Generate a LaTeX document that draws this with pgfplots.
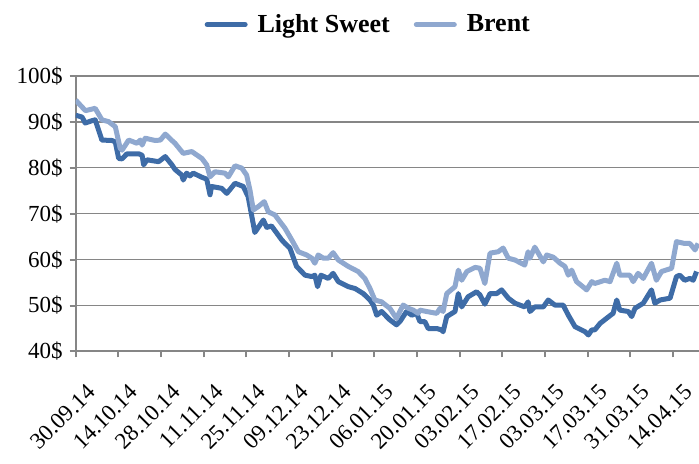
\documentclass[border=0pt]{standalone}
\usepackage{fontspec}
\setmainfont{Liberation Serif}
\usepackage{pgfplots}
\pgfplotsset{compat=1.18}
\usetikzlibrary{calc}
\definecolor{lsblue}{RGB}{62,108,167}
\definecolor{brblue}{RGB}{143,168,207}
\definecolor{gridgray}{RGB}{134,134,134}

\begin{document}
\begin{tikzpicture}
\begin{axis}[
    scale only axis,
    width=311.65pt,
    height=137.9pt,
    xmin=0, xmax=204.6,
    ymin=40, ymax=100,
    axis lines=left,
    axis line style={-, draw=gridgray, line width=1pt},
    ytick={40,50,...,100},
    yticklabels={40\$,50\$,60\$,70\$,80\$,90\$,100\$},
    xtick={0,14,...,196},
    xticklabels={30.09.14,14.10.14,28.10.14,11.11.14,25.11.14,09.12.14,23.12.14,06.01.15,20.01.15,03.02.15,17.02.15,03.03.15,17.03.15,31.03.15,14.04.15},
    tick align=outside,
    major tick length=3pt,
    tick style={draw=gridgray, line width=1pt},
    ymajorgrids,
    major grid style={draw=gridgray, line width=0.85pt},
    tick label style={font=\fontsize{11.5}{13}\selectfont},
    x tick label style={rotate=45, anchor=north east, xshift=-2pt, yshift=-9pt},
    legend style={at={(0.471,1.185)}, anchor=center, draw=none, fill=none,
        legend columns=2, font=\fontsize{13}{15}\selectfont\bfseries,
        /tikz/every odd column/.append style={column sep=3pt},
        /tikz/every even column/.append style={column sep=10pt}},
    legend image code/.code={\draw[#1, line cap=round] (0pt,0pt) -- (19pt,0pt);},
]
\coordinate (bl) at (rel axis cs:0,0);
\coordinate (tr) at (rel axis cs:1,1);

% Light Sweet
\addplot[lsblue, line width=2.5pt, line join=round] coordinates {
 (0,91.4)(2.1,91.0)(3.1,89.7)(5.3,90.2)(6.4,90.4)(8.6,86.0)(11.9,85.9)(13.0,85.6)
 (14.1,82.0)(15.2,81.9)(16.8,83.0)(20.7,83.0)(21.8,82.7)(22.3,80.6)(23.4,81.7)
 (27.2,81.3)(29.4,82.4)(31.6,80.6)(32.6,79.6)(34.8,78.4)(35.3,77.3)(36.4,78.8)
 (37.5,78.2)(38.6,78.8)(41.4,77.9)(43.0,77.5)(44.1,74.1)(44.6,75.9)(47.9,75.5)
 (49.6,74.4)(52.3,76.6)(55.0,75.9)(56.6,73.7)(58.8,65.9)(61.6,68.6)(62.7,67.0)
 (64.3,67.3)(67.6,64.3)(68.7,63.5)(70.3,62.5)(72.5,58.5)(75.3,56.6)(77.5,56.3)
 (78.5,56.6)(79.4,54.1)(80.5,56.6)(82.9,55.9)(84.5,57.0)(86.2,55.2)(89.5,54.1)
 (91.7,53.7)(94.4,52.6)(96.6,51.2)(97.7,50.1)(98.8,47.9)(100.4,48.7)(103.1,46.9)
 (105.3,45.8)(106.4,46.5)(108.6,48.7)(110.3,47.9)(111.9,48.3)(113.0,46.5)(114.6,46.5)
 (115.7,45.0)(118.5,45.0)(120.1,44.7)(120.6,44.3)(121.8,47.6)(124.5,48.7)(125.6,52.6)
 (126.7,49.7)(128.8,51.9)(131.6,53.0)(132.7,52.3)(134.3,50.3)(136.0,52.6)(138.2,52.6)
 (139.8,53.4)(142.0,51.6)(144.2,50.5)(147.4,49.7)(148.5,50.8)(149.1,48.7)(150.7,49.7)
 (153.5,49.7)(155.1,51.2)(157.3,50.1)(160.0,50.1)(161.7,47.9)(163.9,45.4)(167.2,44.3)
 (168.3,43.6)(169.4,44.7)(170.4,44.7)(172.1,46.1)(174.8,47.5)(176.4,48.3)(177.6,51.2)
 (178.6,49.0)(181.4,48.7)(182.5,47.6)(183.6,49.4)(186.3,50.5)(189.0,53.4)(190.1,50.5)
 (191.8,51.2)(195.1,51.6)(197.2,56.3)(198.3,56.6)(199.9,55.5)(201.6,55.9)(202.7,55.5)
 (203.8,57.4)
};
\addlegendentry{Light Sweet}

% Brent
\addplot[brblue, line width=2.5pt, line join=round] coordinates {
 (0,94.7)(1.5,93.6)(3.2,92.4)(6.4,92.9)(8.6,90.4)(10.8,90.0)(13.0,88.9)(14.6,84.2)
 (15.2,83.8)(17.4,86.0)(20.1,85.3)(21.2,86.0)(21.8,84.9)(22.8,86.4)(26.1,85.9)
 (27.8,86.0)(29.4,87.3)(31.6,85.9)(32.6,85.3)(35.3,83.1)(38.1,83.5)(41.4,82.0)
 (43.0,80.6)(44.1,78.0)(45.7,79.1)(49.0,78.8)(50.1,78.0)(52.3,80.4)(54.5,79.9)
 (56.1,78.4)(57.2,75.1)(58.3,70.8)(59.9,71.5)(61.9,72.6)(63.2,70.4)(65.4,69.7)
 (68.7,66.8)(70.9,64.3)(73.1,61.7)(75.8,61.0)(77.5,60.3)(78.5,59.2)(79.6,61.0)
 (81.3,60.3)(82.9,60.3)(84.5,61.5)(86.2,59.9)(89.5,58.5)(92.7,57.4)(94.9,55.9)
 (96.6,53.7)(98.2,51.2)(100.4,50.8)(103.1,49.4)(105.3,47.2)(106.4,48.7)(107.5,50.1)
 (109.2,49.4)(110.8,49.0)(112.4,48.3)(113.0,49.0)(115.2,48.7)(118.5,48.3)(119.6,49.4)
 (120.6,48.7)(121.8,52.6)(124.5,54.1)(125.6,57.7)(126.7,55.5)(128.4,57.4)(131.1,58.3)
 (132.7,58.1)(134.3,54.8)(136.0,61.4)(138.7,61.7)(140.3,62.5)(142.0,60.3)(144.2,59.9)
 (147.4,58.8)(148.5,61.7)(149.1,60.3)(150.7,62.7)(153.5,59.5)(154.6,61.0)(156.8,60.5)
 (159.0,59.2)(160.6,58.5)(161.7,56.6)(162.8,57.7)(164.4,55.2)(167.2,53.7)(167.7,53.4)
 (169.4,55.2)(170.4,54.8)(173.7,55.5)(175.4,55.2)(177.6,59.2)(178.6,56.6)(181.9,56.6)
 (183.0,55.2)(184.6,57.0)(186.3,55.9)(189.0,59.2)(190.6,55.5)(192.3,57.4)(195.6,58.1)
 (197.2,63.9)(199.9,63.5)(201.6,63.5)(203.3,62.1)(204.3,63.5)
};
\addlegendentry{Brent}
\end{axis}
\pgfresetboundingbox
\path ($(bl)+(-37.85pt,-56.25pt)$) rectangle ($(tr)+(0pt,37.85pt)$);
\end{tikzpicture}
\end{document}
